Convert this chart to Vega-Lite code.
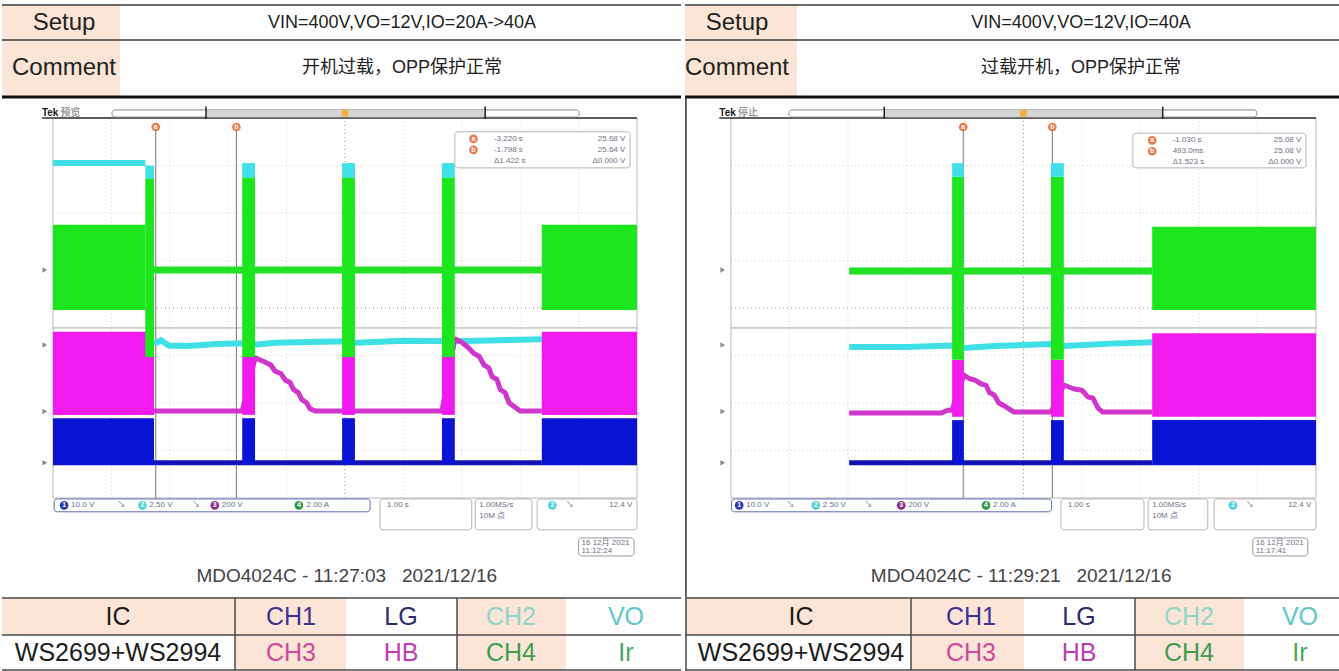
{
"$schema":"https://vega.github.io/schema/vega-lite/v6.json",
"background":"white",
"padding":0,
"spacing":0,
"config":{"view":{"stroke":null},"text":{"font":"Liberation Sans, Noto Sans CJK SC"}},
"datasets":{
"hdrCells":[{"c0":0,"c1":1,"r0":0,"r1":2}],
"hdrThin":[{"r":0},{"r":1}],
"hdrThick":[{"r":2}],
"hdrL":[{"col":0,"row":0,"label":"Setup"},{"col":0,"row":1,"label":"Comment"},{"col":1,"row":0,"label":"VIN=400V,VO=12V,IO=20A->40A"},{"col":1,"row":1,"label":"开机过载，OPP保护正常"}],
"hdrR":[{"col":0,"row":0,"label":"Setup"},{"col":0,"row":1,"label":"Comment"},{"col":1,"row":0,"label":"VIN=400V,VO=12V,IO=40A"},{"col":1,"row":1,"label":"过载开机，OPP保护正常"}],
"ftCells":[{"c0":0,"c1":1,"r0":0,"r1":1},{"c0":1,"c1":2,"r0":0,"r1":2},{"c0":3,"c1":4,"r0":0,"r1":2}],
"ftH":[{"r":0},{"r":1},{"r":2}],
"ftV_L":[{"c":1},{"c":3}],
"ftV_R":[{"c":0},{"c":1},{"c":3}],
"ftText":[{"col":0,"row":0,"label":"IC"},{"col":1,"row":0,"label":"CH1"},{"col":2,"row":0,"label":"LG"},{"col":3,"row":0,"label":"CH2"},{"col":4,"row":0,"label":"VO"},{"col":0,"row":1,"label":"WS2699+WS2994"},{"col":1,"row":1,"label":"CH3"},{"col":2,"row":1,"label":"HB"},{"col":3,"row":1,"label":"CH4"},{"col":4,"row":1,"label":"Ir"}],
"gridT":[{"t":-4,"kind":"minor"},{"t":-3,"kind":"minor"},{"t":-2,"kind":"minor"},{"t":-1,"kind":"minor"},{"t":0,"kind":"center"},{"t":1,"kind":"minor"},{"t":2,"kind":"minor"},{"t":3,"kind":"minor"},{"t":4,"kind":"minor"}],
"gridV":[{"v":-3,"kind":"minor"},{"v":-2,"kind":"minor"},{"v":-1,"kind":"minor"},{"v":0,"kind":"center"},{"v":1,"kind":"minor"},{"v":2,"kind":"minor"},{"v":3,"kind":"minor"}],
"frame":[{"t0":-5,"t1":5,"lo":-4,"hi":4}],
"trigLine":[{"t0":-5,"t1":5,"v":-0.42}],
"chmarks":[{"ch":"CH4","v":0.8},{"ch":"CH2","v":-0.78},{"ch":"CH3","v":-2.18},{"ch":"CH1","v":-3.26}],
"trigMark":[{"t":0}],
"L_top":[{"t0":-5.19,"t1":5,"v":4}],
"R_top":[{"t0":-5.2,"t1":5,"v":4}],
"L_cur":[{"name":"a","t":-3.24},{"name":"b","t":-1.86}],
"R_cur":[{"name":"a","t":-1.03},{"name":"b","t":0.493}],
"L_ticks":[{"t":-2.38},{"t":2.4}],
"R_ticks":[{"t":-2.38},{"t":2.38}],
"R_border":[{"t":-5.77}],
"L_lines":[
{"ch":"CH2","seg":1,"t":-5.0,"v":3.05},{"ch":"CH2","seg":1,"t":-3.42,"v":3.05},
{"ch":"CH2","seg":2,"t":-3.27,"v":-0.76},{"ch":"CH2","seg":2,"t":-3.15,"v":-0.68},{"ch":"CH2","seg":2,"t":-3.02,"v":-0.79},{"ch":"CH2","seg":2,"t":-2.7,"v":-0.8},{"ch":"CH2","seg":2,"t":-2.2,"v":-0.76},{"ch":"CH2","seg":2,"t":-1.76,"v":-0.74},{"ch":"CH2","seg":2,"t":-1.5,"v":-0.77},{"ch":"CH2","seg":2,"t":-1.2,"v":-0.73},{"ch":"CH2","seg":2,"t":0,"v":-0.7},{"ch":"CH2","seg":2,"t":0.2,"v":-0.73},{"ch":"CH2","seg":2,"t":1.0,"v":-0.69},{"ch":"CH2","seg":2,"t":1.9,"v":-0.7},{"ch":"CH2","seg":2,"t":3.37,"v":-0.66},
{"ch":"CH1","t":-3.27,"v":-3.26},{"ch":"CH1","t":3.37,"v":-3.26},
{"ch":"CH3","t":-3.27,"v":-2.17},{"ch":"CH3","t":-1.76,"v":-2.17},{"ch":"CH3","t":-1.54,"v":-1.05},{"ch":"CH3","t":-1.4,"v":-1.12},{"ch":"CH3","t":-1.27,"v":-1.2},{"ch":"CH3","t":-1.2,"v":-1.33},{"ch":"CH3","t":-1.1,"v":-1.38},{"ch":"CH3","t":-1.02,"v":-1.52},{"ch":"CH3","t":-0.94,"v":-1.57},{"ch":"CH3","t":-0.88,"v":-1.72},{"ch":"CH3","t":-0.8,"v":-1.78},{"ch":"CH3","t":-0.74,"v":-1.93},{"ch":"CH3","t":-0.66,"v":-1.99},{"ch":"CH3","t":-0.6,"v":-2.12},{"ch":"CH3","t":-0.5,"v":-2.17},{"ch":"CH3","t":-0.05,"v":-2.17},{"ch":"CH3","t":0.17,"v":-2.17},{"ch":"CH3","t":1.66,"v":-2.17},{"ch":"CH3","t":1.88,"v":-0.65},{"ch":"CH3","t":2.0,"v":-0.72},{"ch":"CH3","t":2.1,"v":-0.82},{"ch":"CH3","t":2.2,"v":-0.95},{"ch":"CH3","t":2.3,"v":-1.02},{"ch":"CH3","t":2.38,"v":-1.2},{"ch":"CH3","t":2.46,"v":-1.26},{"ch":"CH3","t":2.52,"v":-1.45},{"ch":"CH3","t":2.6,"v":-1.5},{"ch":"CH3","t":2.66,"v":-1.72},{"ch":"CH3","t":2.74,"v":-1.78},{"ch":"CH3","t":2.81,"v":-2.0},{"ch":"CH3","t":2.9,"v":-2.08},{"ch":"CH3","t":3.0,"v":-2.17},{"ch":"CH3","t":3.37,"v":-2.17},
{"ch":"CH4","t":-3.27,"v":0.8},{"ch":"CH4","t":3.37,"v":0.8}
],
"R_lines":[
{"ch":"CH2","seg":1,"t":-2.98,"v":-0.82},{"ch":"CH2","seg":1,"t":-2.0,"v":-0.82},{"ch":"CH2","seg":1,"t":-1.22,"v":-0.79},{"ch":"CH2","seg":1,"t":-1.02,"v":-0.84},{"ch":"CH2","seg":1,"t":-0.5,"v":-0.8},{"ch":"CH2","seg":1,"t":0.47,"v":-0.76},{"ch":"CH2","seg":1,"t":0.69,"v":-0.8},{"ch":"CH2","seg":1,"t":1.5,"v":-0.75},{"ch":"CH2","seg":1,"t":2.2,"v":-0.72},
{"ch":"CH1","t":-2.98,"v":-3.26},{"ch":"CH1","t":2.2,"v":-3.26},
{"ch":"CH3","t":-2.98,"v":-2.21},{"ch":"CH3","t":-1.4,"v":-2.21},{"ch":"CH3","t":-1.3,"v":-2.15},{"ch":"CH3","t":-1.22,"v":-2.15},{"ch":"CH3","t":-1.02,"v":-1.41},{"ch":"CH3","t":-0.92,"v":-1.49},{"ch":"CH3","t":-0.83,"v":-1.52},{"ch":"CH3","t":-0.72,"v":-1.6},{"ch":"CH3","t":-0.64,"v":-1.63},{"ch":"CH3","t":-0.58,"v":-1.78},{"ch":"CH3","t":-0.5,"v":-1.83},{"ch":"CH3","t":-0.42,"v":-2.0},{"ch":"CH3","t":-0.3,"v":-2.08},{"ch":"CH3","t":-0.16,"v":-2.19},{"ch":"CH3","t":0.47,"v":-2.19},{"ch":"CH3","t":0.69,"v":-1.62},{"ch":"CH3","t":0.85,"v":-1.7},{"ch":"CH3","t":1.0,"v":-1.73},{"ch":"CH3","t":1.1,"v":-1.87},{"ch":"CH3","t":1.19,"v":-1.9},{"ch":"CH3","t":1.27,"v":-2.1},{"ch":"CH3","t":1.35,"v":-2.19},{"ch":"CH3","t":2.2,"v":-2.19},
{"ch":"CH4","t":-2.98,"v":0.78},{"ch":"CH4","t":2.2,"v":0.78}
],
"L_rects":[
{"ch":"CH2","t0":-3.42,"t1":-3.27,"lo":2.72,"hi":3.0},{"ch":"CH2","t0":-1.76,"t1":-1.54,"lo":2.74,"hi":3.05},{"ch":"CH2","t0":-0.05,"t1":0.17,"lo":2.74,"hi":3.05},{"ch":"CH2","t0":1.66,"t1":1.88,"lo":2.74,"hi":3.05},
{"ch":"CH1","t0":-5,"t1":-3.27,"lo":-3.31,"hi":-2.32},{"ch":"CH1","t0":-1.76,"t1":-1.54,"lo":-3.28,"hi":-2.32},{"ch":"CH1","t0":-0.05,"t1":0.17,"lo":-3.28,"hi":-2.32},{"ch":"CH1","t0":1.66,"t1":1.88,"lo":-3.28,"hi":-2.32},{"ch":"CH1","t0":3.37,"t1":5,"lo":-3.31,"hi":-2.32},
{"ch":"CH3","t0":-5,"t1":-3.27,"lo":-2.25,"hi":-0.5},{"ch":"CH3","t0":-1.76,"t1":-1.54,"lo":-2.25,"hi":-1.03},{"ch":"CH3","t0":-0.05,"t1":0.17,"lo":-2.25,"hi":-1.03},{"ch":"CH3","t0":1.66,"t1":1.88,"lo":-2.25,"hi":-1.03},{"ch":"CH3","t0":3.37,"t1":5,"lo":-2.25,"hi":-0.5},
{"ch":"CH4","t0":-5,"t1":-3.42,"lo":-0.04,"hi":1.75},{"ch":"CH4","t0":-3.42,"t1":-3.27,"lo":-1.03,"hi":2.72},{"ch":"CH4","t0":-1.76,"t1":-1.54,"lo":-1.03,"hi":2.74},{"ch":"CH4","t0":-0.05,"t1":0.17,"lo":-1.03,"hi":2.74},{"ch":"CH4","t0":1.66,"t1":1.88,"lo":-1.03,"hi":2.74},{"ch":"CH4","t0":3.37,"t1":5,"lo":-0.04,"hi":1.75}
],
"R_rects":[
{"ch":"CH2","t0":-1.22,"t1":-1.02,"lo":2.76,"hi":3.05},{"ch":"CH2","t0":0.47,"t1":0.69,"lo":2.76,"hi":3.05},
{"ch":"CH1","t0":-1.22,"t1":-1.02,"lo":-3.28,"hi":-2.36},{"ch":"CH1","t0":0.47,"t1":0.69,"lo":-3.28,"hi":-2.36},{"ch":"CH1","t0":2.2,"t1":5,"lo":-3.31,"hi":-2.36},
{"ch":"CH3","t0":-1.22,"t1":-1.02,"lo":-2.29,"hi":-1.09},{"ch":"CH3","t0":0.47,"t1":0.69,"lo":-2.29,"hi":-1.09},{"ch":"CH3","t0":2.2,"t1":5,"lo":-2.29,"hi":-0.53},
{"ch":"CH4","t0":-1.22,"t1":-1.02,"lo":-1.09,"hi":2.76},{"ch":"CH4","t0":0.47,"t1":0.69,"lo":-1.09,"hi":2.76},{"ch":"CH4","t0":2.2,"t1":5,"lo":-0.04,"hi":1.71}
],
"L_boxes":[
{"kind":"bar","t0":-3.99,"t1":4.01,"lo":4.02,"hi":4.17},{"kind":"barfill","t0":-2.38,"t1":2.4,"lo":4.03,"hi":4.16},{"kind":"box","t0":1.88,"t1":4.88,"lo":2.95,"hi":3.71},{"kind":"capsule","t0":-4.98,"t1":0.43,"lo":-4.29,"hi":-4.02},{"kind":"box","t0":0.6,"t1":2.17,"lo":-4.67,"hi":-4.02},{"kind":"box","t0":2.23,"t1":3.2,"lo":-4.67,"hi":-4.02},{"kind":"box","t0":3.29,"t1":5.0,"lo":-4.67,"hi":-4.02},{"kind":"date","t0":4.0,"t1":4.95,"lo":-5.22,"hi":-4.84}
],
"R_boxes":[
{"kind":"bar","t0":-4.01,"t1":3.99,"lo":4.02,"hi":4.17},{"kind":"barfill","t0":-2.38,"t1":2.38,"lo":4.03,"hi":4.16},{"kind":"box","t0":1.87,"t1":4.83,"lo":2.95,"hi":3.68},{"kind":"capsule","t0":-4.99,"t1":0.48,"lo":-4.29,"hi":-4.02},{"kind":"box","t0":0.64,"t1":2.06,"lo":-4.67,"hi":-4.02},{"kind":"box","t0":2.13,"t1":3.15,"lo":-4.67,"hi":-4.02},{"kind":"box","t0":3.26,"t1":5.0,"lo":-4.67,"hi":-4.02},{"kind":"date","t0":3.92,"t1":4.86,"lo":-5.22,"hi":-4.84}
],
"L_orange":[{"name":"a","t":-3.24,"v":3.81},{"name":"b","t":-1.86,"v":3.81},{"name":"a","t":2.2,"v":3.56},{"name":"b","t":2.2,"v":3.33}],
"R_orange":[{"name":"a","t":-1.03,"v":3.81},{"name":"b","t":0.493,"v":3.81},{"name":"a","t":2.2,"v":3.53},{"name":"b","t":2.2,"v":3.3}],
"L_badges":[{"ch":"CH1","n":"1","t":-4.81,"v":-4.155},{"ch":"CH2","n":"2","t":-3.47,"v":-4.155},{"ch":"CH3","n":"3","t":-2.23,"v":-4.155},{"ch":"CH4","n":"4","t":-0.79,"v":-4.155},{"ch":"CH2","n":"2","t":3.55,"v":-4.155}],
"R_badges":[{"ch":"CH1","n":"1","t":-4.86,"v":-4.155},{"ch":"CH2","n":"2","t":-3.55,"v":-4.155},{"ch":"CH3","n":"3","t":-2.09,"v":-4.155},{"ch":"CH4","n":"4","t":-0.64,"v":-4.155},{"ch":"CH2","n":"2","t":3.58,"v":-4.155}],
"L_txtL":[{"t":2.55,"v":3.56,"text":"-3.220 s"},{"t":2.55,"v":3.33,"text":"-1.798 s"},{"t":2.55,"v":3.09,"text":"Δ1.422 s"},{"t":-4.69,"v":-4.155,"text":"10.0 V"},{"t":-3.9,"v":-4.155,"text":"↘"},{"t":-3.35,"v":-4.155,"text":"2.50 V"},{"t":-2.62,"v":-4.155,"text":"↘"},{"t":-2.11,"v":-4.155,"text":"200 V"},{"t":-0.66,"v":-4.155,"text":"2.00 A"},{"t":0.72,"v":-4.15,"text":"1.00 s"},{"t":2.3,"v":-4.15,"text":"1.00MS/s"},{"t":2.3,"v":-4.38,"text":"10M 点"},{"t":3.78,"v":-4.155,"text":"↘"},{"t":4.05,"v":-4.95,"text":"16 12月 2021"},{"t":4.05,"v":-5.12,"text":"11:12:24"}],
"L_txtR":[{"t":4.8,"v":3.56,"text":"25.68 V"},{"t":4.8,"v":3.33,"text":"25.64 V"},{"t":4.8,"v":3.09,"text":"Δ0.000 V"},{"t":4.92,"v":-4.155,"text":"12.4 V"}],
"R_txtL":[{"t":2.55,"v":3.53,"text":"-1.030 s"},{"t":2.55,"v":3.3,"text":"493.0ms"},{"t":2.55,"v":3.07,"text":"Δ1.523 s"},{"t":-4.74,"v":-4.155,"text":"10.0 V"},{"t":-4.05,"v":-4.155,"text":"↘"},{"t":-3.43,"v":-4.155,"text":"2.50 V"},{"t":-2.72,"v":-4.155,"text":"↘"},{"t":-1.97,"v":-4.155,"text":"200 V"},{"t":-0.52,"v":-4.155,"text":"2.00 A"},{"t":0.76,"v":-4.15,"text":"1.00 s"},{"t":2.2,"v":-4.15,"text":"1.00MS/s"},{"t":2.2,"v":-4.38,"text":"10M 点"},{"t":3.8,"v":-4.155,"text":"↘"},{"t":3.97,"v":-4.95,"text":"16 12月 2021"},{"t":3.97,"v":-5.12,"text":"11:17:41"}],
"R_txtR":[{"t":4.75,"v":3.53,"text":"25.08 V"},{"t":4.75,"v":3.3,"text":"25.08 V"},{"t":4.75,"v":3.07,"text":"Δ0.000 V"},{"t":4.92,"v":-4.155,"text":"12.4 V"}],
"L_tek":[{"t":-5.19,"v":4.1,"w":"Tek"},{"t":-4.87,"v":4.1,"w":"预览"}],
"R_tek":[{"t":-5.2,"v":4.1,"w":"Tek"},{"t":-4.88,"v":4.1,"w":"停止"}],
"L_cap":[{"t":0.03,"v":-5.64,"text":"MDO4024C - 11:27:03\u00a0\u00a0 2021/12/16"}],
"R_cap":[{"t":-0.04,"v":-5.64,"text":"MDO4024C - 11:29:21\u00a0\u00a0 2021/12/16"}]
},
"hconcat":[
{"spacing":0,"bounds":"flush","vconcat":[
{"width":679,"height":97,
"resolve":{"scale":{"x":"independent","y":"independent"}},
"layer":[
{"data":{"name":"hdrCells"},"mark":{"type":"rect","color":"#fce4d6"},"encoding":{"x":{"field":"c0","type":"quantitative","scale":{"domain":[0,1,2],"range":[0,118,679],"nice":false,"zero":false},"axis":null},"x2":{"field":"c1"},"y":{"field":"r0","type":"quantitative","scale":{"domain":[0,1,2],"range":[5,40,97],"nice":false,"zero":false},"axis":null},"y2":{"field":"r1"}}},
{"data":{"name":"hdrThin"},"mark":{"type":"rule","color":"#3a3a3a","strokeWidth":1.5},"encoding":{"y":{"field":"r","type":"quantitative","scale":{"domain":[0,1,2],"range":[5,40,97],"nice":false,"zero":false},"axis":null}}},
{"data":{"name":"hdrThick"},"mark":{"type":"rule","color":"#111111","strokeWidth":3},"encoding":{"y":{"field":"r","type":"quantitative","scale":{"domain":[0,1,2],"range":[5,40,97],"nice":false,"zero":false},"axis":null}}},
{"data":{"name":"hdrL"},"transform":[{"filter":"datum.col === 0"}],"mark":{"type":"text","fontSize":24,"color":"#222222","baseline":"middle","align":"center"},"encoding":{"x":{"field":"col","type":"quantitative","scale":{"domain":[0,1],"range":[62,398],"nice":false,"zero":false},"axis":null},"y":{"field":"row","type":"quantitative","scale":{"domain":[0,1],"range":[23,68],"nice":false,"zero":false},"axis":null},"text":{"field":"label"}}},
{"data":{"name":"hdrL"},"transform":[{"filter":"datum.col === 1"}],"mark":{"type":"text","fontSize":18,"color":"#222222","baseline":"middle","align":"center"},"encoding":{"x":{"field":"col","type":"quantitative","scale":{"domain":[0,1],"range":[62,400],"nice":false,"zero":false},"axis":null},"y":{"field":"row","type":"quantitative","scale":{"domain":[0,1],"range":[23,68],"nice":false,"zero":false},"axis":null},"text":{"field":"label"}}}
]},
{"width":679,"height":500,
"resolve":{"scale":{"color":"independent","fill":"independent","stroke":"independent"}},
"layer":[
{"data":{"name":"gridT"},"mark":{"type":"rule","strokeDash":[1,3]},"encoding":{"x":{"field":"t","type":"quantitative","scale":{"domain":[-5.873,5.753],"nice":false,"zero":false},"axis":null},"y":{"datum":-4,"type":"quantitative","scale":{"domain":[-6.084,4.442],"nice":false,"zero":false},"axis":null},"y2":{"datum":4},"color":{"field":"kind","type":"nominal","scale":{"domain":["minor","center"],"range":["#d4d4d4","#8c8c8c"]},"legend":null}}},
{"data":{"name":"gridV"},"mark":{"type":"rule","strokeDash":[1,3]},"encoding":{"y":{"field":"v","type":"quantitative","scale":{"domain":[-6.084,4.442],"nice":false,"zero":false},"axis":null},"x":{"datum":-5,"type":"quantitative","scale":{"domain":[-5.873,5.753],"nice":false,"zero":false},"axis":null},"x2":{"datum":5},"color":{"field":"kind","type":"nominal","scale":{"domain":["minor","center"],"range":["#d4d4d4","#8c8c8c"]},"legend":null}}},
{"data":{"name":"frame"},"mark":{"type":"rect","filled":false,"color":"#b8b8b8"},"encoding":{"x":{"field":"t0","type":"quantitative","scale":{"domain":[-5.873,5.753],"nice":false,"zero":false},"axis":null},"x2":{"field":"t1"},"y":{"field":"lo","type":"quantitative","scale":{"domain":[-6.084,4.442],"nice":false,"zero":false},"axis":null},"y2":{"field":"hi"}}},
{"data":{"name":"trigLine"},"mark":{"type":"rule","color":"#a8a8a8","strokeWidth":1},"encoding":{"x":{"field":"t0","type":"quantitative","scale":{"domain":[-5.873,5.753],"nice":false,"zero":false},"axis":null},"x2":{"field":"t1"},"y":{"field":"v","type":"quantitative","scale":{"domain":[-6.084,4.442],"nice":false,"zero":false},"axis":null}}},
{"data":{"name":"L_top"},"mark":{"type":"rule","color":"#333333","strokeWidth":1.5},"encoding":{"x":{"field":"t0","type":"quantitative","scale":{"domain":[-5.873,5.753],"nice":false,"zero":false},"axis":null},"x2":{"field":"t1"},"y":{"field":"v","type":"quantitative","scale":{"domain":[-6.084,4.442],"nice":false,"zero":false},"axis":null}}},
{"data":{"name":"L_cur"},"mark":{"type":"rule","color":"#767676","strokeWidth":1},"encoding":{"x":{"field":"t","type":"quantitative","scale":{"domain":[-5.873,5.753],"nice":false,"zero":false},"axis":null},"y":{"datum":-4,"type":"quantitative","scale":{"domain":[-6.084,4.442],"nice":false,"zero":false},"axis":null},"y2":{"datum":3.75}}},
{"data":{"name":"L_lines"},"transform":[{"filter":"datum.ch === 'CH2'"}],"mark":{"type":"line","color":"#3fdfe6","strokeWidth":6,"strokeCap":"butt"},"encoding":{"x":{"field":"t","type":"quantitative","scale":{"domain":[-5.873,5.753],"nice":false,"zero":false},"axis":null},"y":{"field":"v","type":"quantitative","scale":{"domain":[-6.084,4.442],"nice":false,"zero":false},"axis":null},"detail":{"field":"seg","type":"nominal"}}},
{"data":{"name":"L_lines"},"transform":[{"filter":"datum.ch === 'CH1'"}],"mark":{"type":"line","color":"#1212b8","strokeWidth":5,"strokeCap":"butt"},"encoding":{"x":{"field":"t","type":"quantitative","scale":{"domain":[-5.873,5.753],"nice":false,"zero":false},"axis":null},"y":{"field":"v","type":"quantitative","scale":{"domain":[-6.084,4.442],"nice":false,"zero":false},"axis":null}}},
{"data":{"name":"L_lines"},"transform":[{"filter":"datum.ch === 'CH3'"}],"mark":{"type":"line","color":"#d035cc","strokeWidth":5,"strokeCap":"butt","strokeJoin":"round"},"encoding":{"x":{"field":"t","type":"quantitative","scale":{"domain":[-5.873,5.753],"nice":false,"zero":false},"axis":null},"y":{"field":"v","type":"quantitative","scale":{"domain":[-6.084,4.442],"nice":false,"zero":false},"axis":null}}},
{"data":{"name":"L_lines"},"transform":[{"filter":"datum.ch === 'CH4'"}],"mark":{"type":"line","color":"#22e022","strokeWidth":7,"strokeCap":"butt"},"encoding":{"x":{"field":"t","type":"quantitative","scale":{"domain":[-5.873,5.753],"nice":false,"zero":false},"axis":null},"y":{"field":"v","type":"quantitative","scale":{"domain":[-6.084,4.442],"nice":false,"zero":false},"axis":null}}},
{"data":{"name":"L_rects"},"mark":{"type":"rect"},"encoding":{"x":{"field":"t0","type":"quantitative","scale":{"domain":[-5.873,5.753],"nice":false,"zero":false},"axis":null},"x2":{"field":"t1"},"y":{"field":"lo","type":"quantitative","scale":{"domain":[-6.084,4.442],"nice":false,"zero":false},"axis":null},"y2":{"field":"hi"},"color":{"field":"ch","type":"nominal","scale":{"domain":["CH1","CH2","CH3","CH4"],"range":["#0b13d4","#40e0e8","#f21bef","#1ee61e"]},"legend":null}}},
{"data":{"name":"chmarks"},"mark":{"type":"point","shape":"triangle-right","filled":true,"color":"#8a8a8a","size":30,"opacity":1},"encoding":{"x":{"datum":-5.14,"type":"quantitative","scale":{"domain":[-5.873,5.753],"nice":false,"zero":false},"axis":null},"y":{"field":"v","type":"quantitative","scale":{"domain":[-6.084,4.442],"nice":false,"zero":false},"axis":null}}},
{"data":{"name":"L_boxes"},"mark":{"type":"rect","cornerRadius":3,"strokeWidth":1},"encoding":{"x":{"field":"t0","type":"quantitative","scale":{"domain":[-5.873,5.753],"nice":false,"zero":false},"axis":null},"x2":{"field":"t1"},"y":{"field":"lo","type":"quantitative","scale":{"domain":[-6.084,4.442],"nice":false,"zero":false},"axis":null},"y2":{"field":"hi"},"fill":{"field":"kind","type":"nominal","scale":{"domain":["bar","barfill","box","capsule","date"],"range":["#ffffff","#d4d4d4","#ffffff","#ffffff","#ffffff"]},"legend":null},"stroke":{"field":"kind","type":"nominal","scale":{"domain":["bar","barfill","box","capsule","date"],"range":["#8a8a8a","#d4d4d4","#b4b4b4","#5b6fb8","#9a9a9a"]},"legend":null}}},
{"data":{"name":"L_ticks"},"mark":{"type":"rule","color":"#222222","strokeWidth":1.5},"encoding":{"x":{"field":"t","type":"quantitative","scale":{"domain":[-5.873,5.753],"nice":false,"zero":false},"axis":null},"y":{"datum":3.98,"type":"quantitative","scale":{"domain":[-6.084,4.442],"nice":false,"zero":false},"axis":null},"y2":{"datum":4.24}}},
{"data":{"name":"trigMark"},"mark":{"type":"point","shape":"square","filled":true,"color":"#f2b13c","size":45,"opacity":1},"encoding":{"x":{"field":"t","type":"quantitative","scale":{"domain":[-5.873,5.753],"nice":false,"zero":false},"axis":null},"y":{"datum":4.1,"type":"quantitative","scale":{"domain":[-6.084,4.442],"nice":false,"zero":false},"axis":null}}},
{"data":{"name":"L_orange"},"mark":{"type":"point","shape":"circle","filled":true,"color":"#e9784a","size":75,"opacity":1},"encoding":{"x":{"field":"t","type":"quantitative","scale":{"domain":[-5.873,5.753],"nice":false,"zero":false},"axis":null},"y":{"field":"v","type":"quantitative","scale":{"domain":[-6.084,4.442],"nice":false,"zero":false},"axis":null}}},
{"data":{"name":"L_orange"},"mark":{"type":"text","color":"#ffffff","fontSize":7,"fontWeight":"bold","baseline":"middle","align":"center"},"encoding":{"x":{"field":"t","type":"quantitative","scale":{"domain":[-5.873,5.753],"nice":false,"zero":false},"axis":null},"y":{"field":"v","type":"quantitative","scale":{"domain":[-6.084,4.442],"nice":false,"zero":false},"axis":null},"text":{"field":"name"}}},
{"data":{"name":"L_badges"},"mark":{"type":"point","shape":"circle","filled":true,"size":75,"opacity":1},"encoding":{"x":{"field":"t","type":"quantitative","scale":{"domain":[-5.873,5.753],"nice":false,"zero":false},"axis":null},"y":{"field":"v","type":"quantitative","scale":{"domain":[-6.084,4.442],"nice":false,"zero":false},"axis":null},"color":{"field":"ch","type":"nominal","scale":{"domain":["CH1","CH2","CH3","CH4"],"range":["#2a37b5","#4fd3da","#8a2b8a","#2f9a45"]},"legend":null}}},
{"data":{"name":"L_badges"},"mark":{"type":"text","color":"#ffffff","fontSize":7,"fontWeight":"bold","baseline":"middle","align":"center"},"encoding":{"x":{"field":"t","type":"quantitative","scale":{"domain":[-5.873,5.753],"nice":false,"zero":false},"axis":null},"y":{"field":"v","type":"quantitative","scale":{"domain":[-6.084,4.442],"nice":false,"zero":false},"axis":null},"text":{"field":"n"}}},
{"data":{"name":"L_txtL"},"mark":{"type":"text","align":"left","baseline":"middle","fontSize":8,"color":"#6b7285"},"encoding":{"x":{"field":"t","type":"quantitative","scale":{"domain":[-5.873,5.753],"nice":false,"zero":false},"axis":null},"y":{"field":"v","type":"quantitative","scale":{"domain":[-6.084,4.442],"nice":false,"zero":false},"axis":null},"text":{"field":"text"}}},
{"data":{"name":"L_txtR"},"mark":{"type":"text","align":"right","baseline":"middle","fontSize":8,"color":"#6b7285"},"encoding":{"x":{"field":"t","type":"quantitative","scale":{"domain":[-5.873,5.753],"nice":false,"zero":false},"axis":null},"y":{"field":"v","type":"quantitative","scale":{"domain":[-6.084,4.442],"nice":false,"zero":false},"axis":null},"text":{"field":"text"}}},
{"data":{"name":"L_tek"},"mark":{"type":"text","align":"left","baseline":"middle","fontSize":10,"fontWeight":"bold"},"encoding":{"x":{"field":"t","type":"quantitative","scale":{"domain":[-5.873,5.753],"nice":false,"zero":false},"axis":null},"y":{"field":"v","type":"quantitative","scale":{"domain":[-6.084,4.442],"nice":false,"zero":false},"axis":null},"text":{"field":"w"},"color":{"field":"w","type":"nominal","scale":{"domain":["Tek","预览","停止"],"range":["#222222","#9a9a9a","#9a9a9a"]},"legend":null}}},
{"data":{"name":"L_cap"},"mark":{"type":"text","align":"center","baseline":"middle","fontSize":19,"color":"#444444"},"encoding":{"x":{"field":"t","type":"quantitative","scale":{"domain":[-5.873,5.753],"nice":false,"zero":false},"axis":null},"y":{"field":"v","type":"quantitative","scale":{"domain":[-6.084,4.442],"nice":false,"zero":false},"axis":null},"text":{"field":"text"}}}
]},
{"width":679,"height":74,
"resolve":{"scale":{"x":"independent","y":"independent"}},
"layer":[
{"data":{"name":"ftCells"},"mark":{"type":"rect","color":"#fce4d6"},"encoding":{"x":{"field":"c0","type":"quantitative","scale":{"domain":[0,1,2,3,4,5],"range":[0,233,344,455,564,679],"nice":false,"zero":false},"axis":null},"x2":{"field":"c1"},"y":{"field":"r0","type":"quantitative","scale":{"domain":[0,1,2],"range":[1,38,73],"nice":false,"zero":false},"axis":null},"y2":{"field":"r1"}}},
{"data":{"name":"ftH"},"mark":{"type":"rule","color":"#4a4a4a","strokeWidth":1.5},"encoding":{"y":{"field":"r","type":"quantitative","scale":{"domain":[0,1,2],"range":[1,38,73],"nice":false,"zero":false},"axis":null}}},
{"data":{"name":"ftV_L"},"mark":{"type":"rule","color":"#4a4a4a","strokeWidth":1.5},"encoding":{"x":{"field":"c","type":"quantitative","scale":{"domain":[0,1,2,3,4,5],"range":[0,233,344,455,564,679],"nice":false,"zero":false},"axis":null},"y":{"datum":0,"type":"quantitative","scale":{"domain":[0,1,2],"range":[1,38,73],"nice":false,"zero":false},"axis":null},"y2":{"datum":2}}},
{"data":{"name":"ftText"},"mark":{"type":"text","fontSize":25,"baseline":"middle","align":"center"},"encoding":{"x":{"field":"col","type":"quantitative","scale":{"domain":[0,1,2,3,4],"range":[116,289,399,509,624],"nice":false,"zero":false},"axis":null},"y":{"field":"row","type":"quantitative","scale":{"domain":[0,1],"range":[20,56],"nice":false,"zero":false},"axis":null},"text":{"field":"label"},"color":{"field":"label","type":"nominal","scale":{"domain":["IC","WS2699+WS2994","CH1","LG","CH2","VO","CH3","HB","CH4","Ir"],"range":["#1c1c1c","#1c1c1c","#3b3490","#2b2b70","#8fd5cb","#5ec8c8","#d3479b","#c23cb4","#3f9d52","#4aa85c"]},"legend":null}}}
]}
]},
{"spacing":0,"bounds":"flush","vconcat":[
{"width":660,"height":97,
"resolve":{"scale":{"x":"independent","y":"independent"}},
"layer":[
{"data":{"name":"hdrCells"},"mark":{"type":"rect","color":"#fce4d6"},"encoding":{"x":{"field":"c0","type":"quantitative","scale":{"domain":[0,1,2],"range":[0,112,660],"nice":false,"zero":false},"axis":null},"x2":{"field":"c1"},"y":{"field":"r0","type":"quantitative","scale":{"domain":[0,1,2],"range":[5,40,97],"nice":false,"zero":false},"axis":null},"y2":{"field":"r1"}}},
{"data":{"name":"hdrThin"},"mark":{"type":"rule","color":"#3a3a3a","strokeWidth":1.5},"encoding":{"y":{"field":"r","type":"quantitative","scale":{"domain":[0,1,2],"range":[5,40,97],"nice":false,"zero":false},"axis":null}}},
{"data":{"name":"hdrThick"},"mark":{"type":"rule","color":"#111111","strokeWidth":3},"encoding":{"y":{"field":"r","type":"quantitative","scale":{"domain":[0,1,2],"range":[5,40,97],"nice":false,"zero":false},"axis":null}}},
{"data":{"name":"hdrR"},"transform":[{"filter":"datum.col === 0"}],"mark":{"type":"text","fontSize":24,"color":"#222222","baseline":"middle","align":"center"},"encoding":{"x":{"field":"col","type":"quantitative","scale":{"domain":[0,1],"range":[52,390],"nice":false,"zero":false},"axis":null},"y":{"field":"row","type":"quantitative","scale":{"domain":[0,1],"range":[23,68],"nice":false,"zero":false},"axis":null},"text":{"field":"label"}}},
{"data":{"name":"hdrR"},"transform":[{"filter":"datum.col === 1"}],"mark":{"type":"text","fontSize":18,"color":"#222222","baseline":"middle","align":"center"},"encoding":{"x":{"field":"col","type":"quantitative","scale":{"domain":[0,1],"range":[52,396],"nice":false,"zero":false},"axis":null},"y":{"field":"row","type":"quantitative","scale":{"domain":[0,1],"range":[23,68],"nice":false,"zero":false},"axis":null},"text":{"field":"label"}}}
]},
{"width":660,"height":500,
"resolve":{"scale":{"color":"independent","fill":"independent","stroke":"independent"}},
"layer":[
{"data":{"name":"gridT"},"mark":{"type":"rule","strokeDash":[1,3]},"encoding":{"x":{"field":"t","type":"quantitative","scale":{"domain":[-5.786,5.496],"nice":false,"zero":false},"axis":null},"y":{"datum":-4,"type":"quantitative","scale":{"domain":[-6.084,4.442],"nice":false,"zero":false},"axis":null},"y2":{"datum":4},"color":{"field":"kind","type":"nominal","scale":{"domain":["minor","center"],"range":["#d4d4d4","#8c8c8c"]},"legend":null}}},
{"data":{"name":"gridV"},"mark":{"type":"rule","strokeDash":[1,3]},"encoding":{"y":{"field":"v","type":"quantitative","scale":{"domain":[-6.084,4.442],"nice":false,"zero":false},"axis":null},"x":{"datum":-5,"type":"quantitative","scale":{"domain":[-5.786,5.496],"nice":false,"zero":false},"axis":null},"x2":{"datum":5},"color":{"field":"kind","type":"nominal","scale":{"domain":["minor","center"],"range":["#d4d4d4","#8c8c8c"]},"legend":null}}},
{"data":{"name":"frame"},"mark":{"type":"rect","filled":false,"color":"#b8b8b8"},"encoding":{"x":{"field":"t0","type":"quantitative","scale":{"domain":[-5.786,5.496],"nice":false,"zero":false},"axis":null},"x2":{"field":"t1"},"y":{"field":"lo","type":"quantitative","scale":{"domain":[-6.084,4.442],"nice":false,"zero":false},"axis":null},"y2":{"field":"hi"}}},
{"data":{"name":"R_border"},"mark":{"type":"rule","color":"#333333","strokeWidth":1.5},"encoding":{"x":{"field":"t","type":"quantitative","scale":{"domain":[-5.786,5.496],"nice":false,"zero":false},"axis":null}}},
{"data":{"name":"trigLine"},"mark":{"type":"rule","color":"#a8a8a8","strokeWidth":1},"encoding":{"x":{"field":"t0","type":"quantitative","scale":{"domain":[-5.786,5.496],"nice":false,"zero":false},"axis":null},"x2":{"field":"t1"},"y":{"field":"v","type":"quantitative","scale":{"domain":[-6.084,4.442],"nice":false,"zero":false},"axis":null}}},
{"data":{"name":"R_top"},"mark":{"type":"rule","color":"#333333","strokeWidth":1.5},"encoding":{"x":{"field":"t0","type":"quantitative","scale":{"domain":[-5.786,5.496],"nice":false,"zero":false},"axis":null},"x2":{"field":"t1"},"y":{"field":"v","type":"quantitative","scale":{"domain":[-6.084,4.442],"nice":false,"zero":false},"axis":null}}},
{"data":{"name":"R_cur"},"mark":{"type":"rule","color":"#767676","strokeWidth":1},"encoding":{"x":{"field":"t","type":"quantitative","scale":{"domain":[-5.786,5.496],"nice":false,"zero":false},"axis":null},"y":{"datum":-4,"type":"quantitative","scale":{"domain":[-6.084,4.442],"nice":false,"zero":false},"axis":null},"y2":{"datum":3.75}}},
{"data":{"name":"R_lines"},"transform":[{"filter":"datum.ch === 'CH2'"}],"mark":{"type":"line","color":"#3fdfe6","strokeWidth":6,"strokeCap":"butt"},"encoding":{"x":{"field":"t","type":"quantitative","scale":{"domain":[-5.786,5.496],"nice":false,"zero":false},"axis":null},"y":{"field":"v","type":"quantitative","scale":{"domain":[-6.084,4.442],"nice":false,"zero":false},"axis":null},"detail":{"field":"seg","type":"nominal"}}},
{"data":{"name":"R_lines"},"transform":[{"filter":"datum.ch === 'CH1'"}],"mark":{"type":"line","color":"#1212b8","strokeWidth":5,"strokeCap":"butt"},"encoding":{"x":{"field":"t","type":"quantitative","scale":{"domain":[-5.786,5.496],"nice":false,"zero":false},"axis":null},"y":{"field":"v","type":"quantitative","scale":{"domain":[-6.084,4.442],"nice":false,"zero":false},"axis":null}}},
{"data":{"name":"R_lines"},"transform":[{"filter":"datum.ch === 'CH3'"}],"mark":{"type":"line","color":"#d035cc","strokeWidth":5,"strokeCap":"butt","strokeJoin":"round"},"encoding":{"x":{"field":"t","type":"quantitative","scale":{"domain":[-5.786,5.496],"nice":false,"zero":false},"axis":null},"y":{"field":"v","type":"quantitative","scale":{"domain":[-6.084,4.442],"nice":false,"zero":false},"axis":null}}},
{"data":{"name":"R_lines"},"transform":[{"filter":"datum.ch === 'CH4'"}],"mark":{"type":"line","color":"#22e022","strokeWidth":7,"strokeCap":"butt"},"encoding":{"x":{"field":"t","type":"quantitative","scale":{"domain":[-5.786,5.496],"nice":false,"zero":false},"axis":null},"y":{"field":"v","type":"quantitative","scale":{"domain":[-6.084,4.442],"nice":false,"zero":false},"axis":null}}},
{"data":{"name":"R_rects"},"mark":{"type":"rect"},"encoding":{"x":{"field":"t0","type":"quantitative","scale":{"domain":[-5.786,5.496],"nice":false,"zero":false},"axis":null},"x2":{"field":"t1"},"y":{"field":"lo","type":"quantitative","scale":{"domain":[-6.084,4.442],"nice":false,"zero":false},"axis":null},"y2":{"field":"hi"},"color":{"field":"ch","type":"nominal","scale":{"domain":["CH1","CH2","CH3","CH4"],"range":["#0b13d4","#40e0e8","#f21bef","#1ee61e"]},"legend":null}}},
{"data":{"name":"chmarks"},"mark":{"type":"point","shape":"triangle-right","filled":true,"color":"#8a8a8a","size":30,"opacity":1},"encoding":{"x":{"datum":-5.14,"type":"quantitative","scale":{"domain":[-5.786,5.496],"nice":false,"zero":false},"axis":null},"y":{"field":"v","type":"quantitative","scale":{"domain":[-6.084,4.442],"nice":false,"zero":false},"axis":null}}},
{"data":{"name":"R_boxes"},"mark":{"type":"rect","cornerRadius":3,"strokeWidth":1},"encoding":{"x":{"field":"t0","type":"quantitative","scale":{"domain":[-5.786,5.496],"nice":false,"zero":false},"axis":null},"x2":{"field":"t1"},"y":{"field":"lo","type":"quantitative","scale":{"domain":[-6.084,4.442],"nice":false,"zero":false},"axis":null},"y2":{"field":"hi"},"fill":{"field":"kind","type":"nominal","scale":{"domain":["bar","barfill","box","capsule","date"],"range":["#ffffff","#d4d4d4","#ffffff","#ffffff","#ffffff"]},"legend":null},"stroke":{"field":"kind","type":"nominal","scale":{"domain":["bar","barfill","box","capsule","date"],"range":["#8a8a8a","#d4d4d4","#b4b4b4","#5b6fb8","#9a9a9a"]},"legend":null}}},
{"data":{"name":"R_ticks"},"mark":{"type":"rule","color":"#222222","strokeWidth":1.5},"encoding":{"x":{"field":"t","type":"quantitative","scale":{"domain":[-5.786,5.496],"nice":false,"zero":false},"axis":null},"y":{"datum":3.98,"type":"quantitative","scale":{"domain":[-6.084,4.442],"nice":false,"zero":false},"axis":null},"y2":{"datum":4.24}}},
{"data":{"name":"trigMark"},"mark":{"type":"point","shape":"square","filled":true,"color":"#f2b13c","size":45,"opacity":1},"encoding":{"x":{"field":"t","type":"quantitative","scale":{"domain":[-5.786,5.496],"nice":false,"zero":false},"axis":null},"y":{"datum":4.1,"type":"quantitative","scale":{"domain":[-6.084,4.442],"nice":false,"zero":false},"axis":null}}},
{"data":{"name":"R_orange"},"mark":{"type":"point","shape":"circle","filled":true,"color":"#e9784a","size":75,"opacity":1},"encoding":{"x":{"field":"t","type":"quantitative","scale":{"domain":[-5.786,5.496],"nice":false,"zero":false},"axis":null},"y":{"field":"v","type":"quantitative","scale":{"domain":[-6.084,4.442],"nice":false,"zero":false},"axis":null}}},
{"data":{"name":"R_orange"},"mark":{"type":"text","color":"#ffffff","fontSize":7,"fontWeight":"bold","baseline":"middle","align":"center"},"encoding":{"x":{"field":"t","type":"quantitative","scale":{"domain":[-5.786,5.496],"nice":false,"zero":false},"axis":null},"y":{"field":"v","type":"quantitative","scale":{"domain":[-6.084,4.442],"nice":false,"zero":false},"axis":null},"text":{"field":"name"}}},
{"data":{"name":"R_badges"},"mark":{"type":"point","shape":"circle","filled":true,"size":75,"opacity":1},"encoding":{"x":{"field":"t","type":"quantitative","scale":{"domain":[-5.786,5.496],"nice":false,"zero":false},"axis":null},"y":{"field":"v","type":"quantitative","scale":{"domain":[-6.084,4.442],"nice":false,"zero":false},"axis":null},"color":{"field":"ch","type":"nominal","scale":{"domain":["CH1","CH2","CH3","CH4"],"range":["#2a37b5","#4fd3da","#8a2b8a","#2f9a45"]},"legend":null}}},
{"data":{"name":"R_badges"},"mark":{"type":"text","color":"#ffffff","fontSize":7,"fontWeight":"bold","baseline":"middle","align":"center"},"encoding":{"x":{"field":"t","type":"quantitative","scale":{"domain":[-5.786,5.496],"nice":false,"zero":false},"axis":null},"y":{"field":"v","type":"quantitative","scale":{"domain":[-6.084,4.442],"nice":false,"zero":false},"axis":null},"text":{"field":"n"}}},
{"data":{"name":"R_txtL"},"mark":{"type":"text","align":"left","baseline":"middle","fontSize":8,"color":"#6b7285"},"encoding":{"x":{"field":"t","type":"quantitative","scale":{"domain":[-5.786,5.496],"nice":false,"zero":false},"axis":null},"y":{"field":"v","type":"quantitative","scale":{"domain":[-6.084,4.442],"nice":false,"zero":false},"axis":null},"text":{"field":"text"}}},
{"data":{"name":"R_txtR"},"mark":{"type":"text","align":"right","baseline":"middle","fontSize":8,"color":"#6b7285"},"encoding":{"x":{"field":"t","type":"quantitative","scale":{"domain":[-5.786,5.496],"nice":false,"zero":false},"axis":null},"y":{"field":"v","type":"quantitative","scale":{"domain":[-6.084,4.442],"nice":false,"zero":false},"axis":null},"text":{"field":"text"}}},
{"data":{"name":"R_tek"},"mark":{"type":"text","align":"left","baseline":"middle","fontSize":10,"fontWeight":"bold"},"encoding":{"x":{"field":"t","type":"quantitative","scale":{"domain":[-5.786,5.496],"nice":false,"zero":false},"axis":null},"y":{"field":"v","type":"quantitative","scale":{"domain":[-6.084,4.442],"nice":false,"zero":false},"axis":null},"text":{"field":"w"},"color":{"field":"w","type":"nominal","scale":{"domain":["Tek","预览","停止"],"range":["#222222","#9a9a9a","#9a9a9a"]},"legend":null}}},
{"data":{"name":"R_cap"},"mark":{"type":"text","align":"center","baseline":"middle","fontSize":19,"color":"#444444"},"encoding":{"x":{"field":"t","type":"quantitative","scale":{"domain":[-5.786,5.496],"nice":false,"zero":false},"axis":null},"y":{"field":"v","type":"quantitative","scale":{"domain":[-6.084,4.442],"nice":false,"zero":false},"axis":null},"text":{"field":"text"}}}
]},
{"width":660,"height":74,
"resolve":{"scale":{"x":"independent","y":"independent"}},
"layer":[
{"data":{"name":"ftCells"},"mark":{"type":"rect","color":"#fce4d6"},"encoding":{"x":{"field":"c0","type":"quantitative","scale":{"domain":[0,1,2,3,4,5],"range":[0,226,339,450,559,660],"nice":false,"zero":false},"axis":null},"x2":{"field":"c1"},"y":{"field":"r0","type":"quantitative","scale":{"domain":[0,1,2],"range":[1,38,73],"nice":false,"zero":false},"axis":null},"y2":{"field":"r1"}}},
{"data":{"name":"ftH"},"mark":{"type":"rule","color":"#4a4a4a","strokeWidth":1.5},"encoding":{"y":{"field":"r","type":"quantitative","scale":{"domain":[0,1,2],"range":[1,38,73],"nice":false,"zero":false},"axis":null}}},
{"data":{"name":"ftV_R"},"mark":{"type":"rule","color":"#4a4a4a","strokeWidth":1.5},"encoding":{"x":{"field":"c","type":"quantitative","scale":{"domain":[0,1,2,3,4,5],"range":[1,226,339,450,559,660],"nice":false,"zero":false},"axis":null},"y":{"datum":0,"type":"quantitative","scale":{"domain":[0,1,2],"range":[1,38,73],"nice":false,"zero":false},"axis":null},"y2":{"datum":2}}},
{"data":{"name":"ftText"},"mark":{"type":"text","fontSize":25,"baseline":"middle","align":"center"},"encoding":{"x":{"field":"col","type":"quantitative","scale":{"domain":[0,1,2,3,4],"range":[116,286,394,504,615],"nice":false,"zero":false},"axis":null},"y":{"field":"row","type":"quantitative","scale":{"domain":[0,1],"range":[20,56],"nice":false,"zero":false},"axis":null},"text":{"field":"label"},"color":{"field":"label","type":"nominal","scale":{"domain":["IC","WS2699+WS2994","CH1","LG","CH2","VO","CH3","HB","CH4","Ir"],"range":["#1c1c1c","#1c1c1c","#3b3490","#2b2b70","#8fd5cb","#5ec8c8","#d3479b","#c23cb4","#3f9d52","#4aa85c"]},"legend":null}}}
]}
]}
]
}
